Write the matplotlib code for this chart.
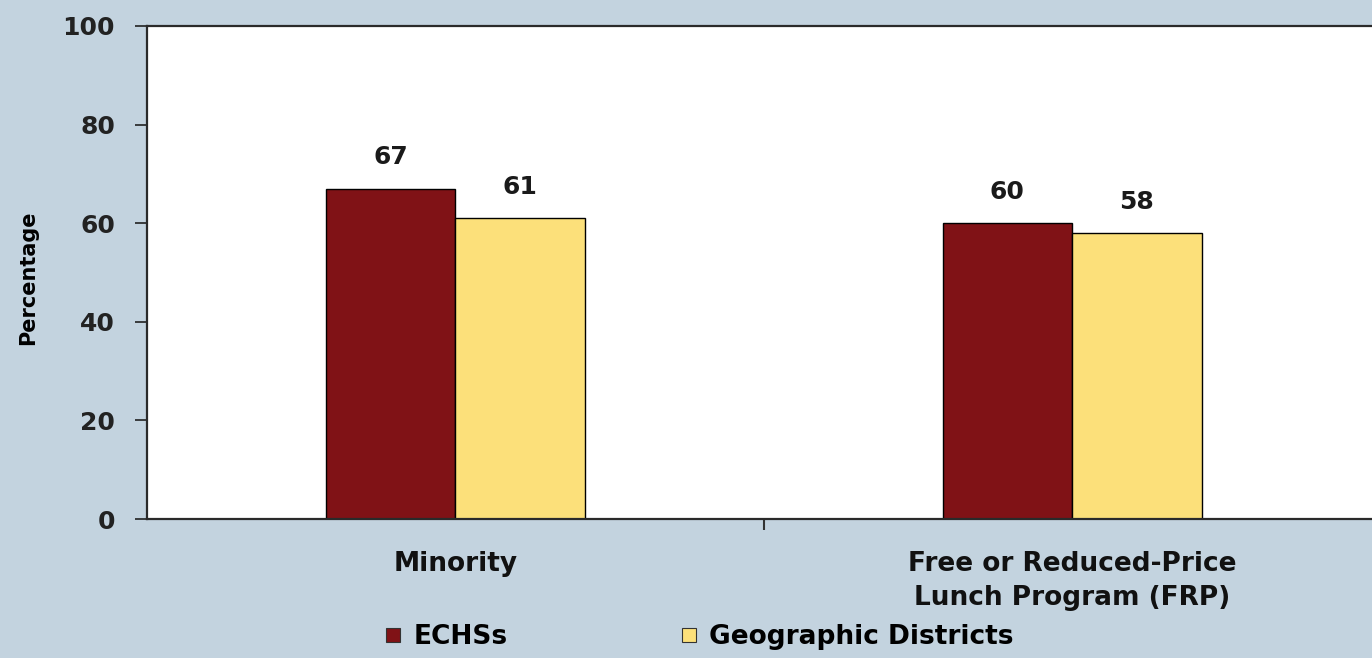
import numpy as np
import matplotlib.pyplot as plt
from matplotlib.lines import Line2D

# share of students in each group (percent)
categories = ["Minority", "Free or Reduced-Price\nLunch Program (FRP)"]
series_names = ["ECHSs", "Geographic Districts"]
echs = [67, 60]
districts = [61, 58]

bg = "#C3D3DF"
red = "#801216"
yellow = "#FCE07A"
font = "DejaVu Sans"

fig = plt.figure(figsize=(13.72, 6.58), dpi=100, facecolor=bg)
# the plot area runs a little past the right edge of the figure
ax = fig.add_axes([0.1071, 0.2112, 0.8990, 0.7493])
ax.set_facecolor("white")

x = np.arange(len(categories))
w = 0.21
b1 = ax.bar(x - w / 2, echs, w, color=red, edgecolor="black", linewidth=1)
b2 = ax.bar(x + w / 2, districts, w, color=yellow, edgecolor="black", linewidth=1)

for bars, vals in ((b1, echs), (b2, districts)):
    for rect, v in zip(bars, vals):
        ax.annotate(str(v), (rect.get_x() + rect.get_width() / 2, v),
                    xytext=(0, 14), textcoords="offset points",
                    ha="center", va="bottom", fontsize=18,
                    fontweight="bold", family=font, color="#1a1a1a")

ax.set_xlim(-0.5, 1.5)
ax.set_ylim(0, 100)
ax.set_yticks([0, 20, 40, 60, 80, 100])
ax.tick_params(axis="y", length=9, width=1.2, pad=14, labelsize=18,
               colors="#222222")
for lab in ax.get_yticklabels():
    lab.set_fontweight("bold")
    lab.set_family(font)

# divider tick between the groups, names as minor tick labels
ax.set_xticks([0.5])
ax.set_xticklabels([""])
ax.tick_params(axis="x", which="major", length=8, width=1.5, direction="out",
               colors="#333333")
ax.set_xticks(x, minor=True)
ax.set_xticklabels(categories, minor=True, fontsize=19, fontweight="bold",
                   family=font, linespacing=1.4)
ax.tick_params(axis="x", which="minor", length=0, pad=23, colors="#111111")

for side in ("left", "bottom", "top"):
    ax.spines[side].set_linewidth(1.6)
    ax.spines[side].set_color("#2a2a2a")
ax.spines["right"].set_visible(False)

ax.set_ylabel("Percentage", fontsize=15, fontweight="bold", family=font)
ax.yaxis.set_label_coords(-0.088, 0.49)

handles = [Line2D([], [], linestyle="none", marker="s", markersize=10,
                  markerfacecolor=c, markeredgecolor="#333333",
                  markeredgewidth=0.8)
           for c in (red, yellow)]
fig.legend(handles, series_names, loc="center left", ncol=2,
           bbox_to_anchor=(0.281, 0.032), frameon=False, borderpad=0,
           borderaxespad=0,
           prop={"family": font, "weight": "bold", "size": 19},
           handlelength=0.6, handletextpad=0.45, columnspacing=6.6)

fig.savefig("out.png", dpi=100, facecolor=bg)
